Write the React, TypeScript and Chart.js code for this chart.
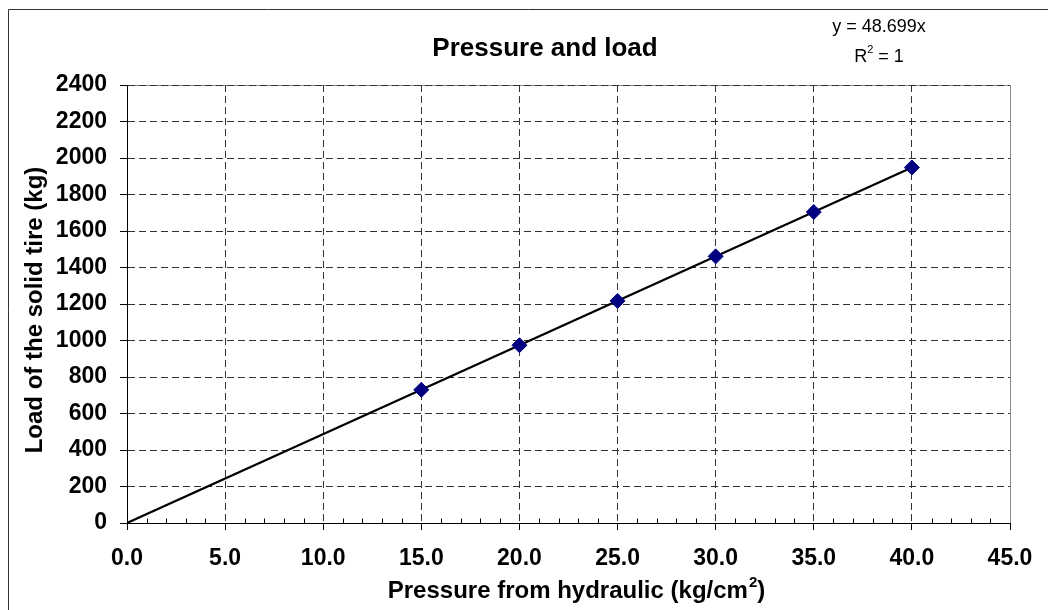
import React, { useEffect, useRef } from "react";
import { Chart, registerables } from "chart.js";

Chart.register(...registerables);

const pressureValues = [15, 20, 25, 30, 35, 40];
const loadValues = [730, 974, 1217, 1461, 1704, 1948];
const trendPressure = [0, 40];
const trendLoad = [0, 1948];

const xMin = 0;
const xMax = 45;
const xStep = 5;
const xMinorStep = 1;
const yMin = 0;
const yMax = 2400;
const yStep = 200;

const chartTitle = "Pressure and load";
const xTitle = "Pressure from hydraulic (kg/cm";
const xTitleSup = "2";
const xTitleEnd = ")";
const yTitle = "Load of the solid tire (kg)";
const eqLine1 = "y = 48.699x";
const eqLine2a = "R";
const eqLine2sup = "2";
const eqLine2b = " = 1";

const FONT = "'Liberation Sans', Arial, sans-serif";

const decorPlugin = {
  id: "decor",
  beforeDraw(chart: any) {
    const { ctx, chartArea } = chart;
    ctx.save();
    ctx.fillStyle = "#fff";
    ctx.fillRect(0, 0, chart.width, chart.height);
    ctx.strokeStyle = "#333";
    ctx.lineWidth = 1;
    ctx.beginPath();
    ctx.moveTo(8.5, chart.height + 2);
    ctx.lineTo(8.5, 9.5);
    ctx.lineTo(chart.width + 2, 9.5);
    ctx.stroke();
    ctx.strokeStyle = "#8a8a8a";
    ctx.strokeRect(
      Math.round(chartArea.left) + 0.5,
      Math.round(chartArea.top) + 0.5,
      Math.round(chartArea.right - chartArea.left),
      Math.round(chartArea.bottom - chartArea.top)
    );
    ctx.restore();
  },
  afterDraw(chart: any) {
    const { ctx, chartArea, scales } = chart;
    const xs = scales.x;
    ctx.save();
    ctx.strokeStyle = "#000";
    ctx.lineWidth = 1;
    const yb = Math.round(chartArea.bottom) + 0.5;
    ctx.beginPath();
    for (let v = xMin + xMinorStep; v < xMax; v += xMinorStep) {
      if (v % xStep === 0) continue;
      const px = Math.round(xs.getPixelForValue(v)) + 0.5;
      ctx.moveTo(px, yb);
      ctx.lineTo(px, yb - 5);
    }
    ctx.stroke();

    ctx.fillStyle = "#000";
    ctx.font = `bold 26px ${FONT}`;
    ctx.textAlign = "center";
    ctx.textBaseline = "alphabetic";
    ctx.fillText(chartTitle, 545, 56);

    ctx.font = `18px ${FONT}`;
    ctx.fillText(eqLine1, 879, 32);
    ctx.textAlign = "left";
    const wR = ctx.measureText(eqLine2a).width;
    const wE = ctx.measureText(eqLine2b).width;
    ctx.font = `11px ${FONT}`;
    const wS = ctx.measureText(eqLine2sup).width;
    const total = wR + wS + wE;
    let ex = 879 - total / 2;
    ctx.font = `18px ${FONT}`;
    ctx.fillText(eqLine2a, ex, 62);
    ex += wR;
    ctx.font = `11px ${FONT}`;
    ctx.fillText(eqLine2sup, ex, 53);
    ex += wS;
    ctx.font = `18px ${FONT}`;
    ctx.fillText(eqLine2b, ex, 62);

    ctx.font = `bold 24px ${FONT}`;
    const w1 = ctx.measureText(xTitle).width;
    const w3 = ctx.measureText(xTitleEnd).width;
    ctx.font = `bold 15px ${FONT}`;
    const w2 = ctx.measureText(xTitleSup).width;
    let tx = 576 - (w1 + w2 + w3) / 2;
    const tb = 598;
    ctx.font = `bold 24px ${FONT}`;
    ctx.fillText(xTitle, tx, tb);
    tx += w1;
    ctx.font = `bold 15px ${FONT}`;
    ctx.fillText(xTitleSup, tx + 1, tb - 11);
    tx += w2 + 1;
    ctx.font = `bold 24px ${FONT}`;
    ctx.fillText(xTitleEnd, tx, tb);

    ctx.translate(42, 310);
    ctx.rotate(-Math.PI / 2);
    ctx.textAlign = "center";
    ctx.font = `bold 24px ${FONT}`;
    ctx.fillText(yTitle, 0, 0);
    ctx.restore();
  },
};

export default function App() {
  const canvasRef = useRef<HTMLCanvasElement | null>(null);

  useEffect(() => {
    const canvas = canvasRef.current;
    if (!canvas) return;
    const chart = new Chart(canvas, {
      type: "scatter",
      data: {
        datasets: [
          {
            label: "Load",
            data: pressureValues.map((x, i) => ({ x, y: loadValues[i] })),
            pointStyle: "rectRot",
            pointRadius: 7.5,
            pointBackgroundColor: "#000080",
            pointBorderColor: "#000080",
            pointBorderWidth: 1,
            showLine: false,
            order: 0,
          },
          {
            label: "Trend",
            data: trendPressure.map((x, i) => ({ x, y: trendLoad[i] })),
            showLine: true,
            borderColor: "#000",
            borderWidth: 2.2,
            pointRadius: 0,
            fill: false,
            order: 1,
          },
        ],
      },
      options: {
        responsive: false,
        animation: false,
        devicePixelRatio: 1,
        layout: { padding: { left: 0, top: 85, right: 38, bottom: 0 } },
        plugins: {
          legend: { display: false },
          tooltip: { enabled: false },
          title: { display: false },
        },
        scales: {
          x: {
            type: "linear",
            position: "bottom",
            min: xMin,
            max: xMax,
            afterFit: (s: any) => {
              s.height = 87;
            },
            ticks: {
              stepSize: xStep,
              color: "#000",
              font: { family: FONT, size: 23, weight: "bold" },
              padding: 15,
              maxRotation: 0,
              callback: (v: any) => Number(v).toFixed(1),
            },
            grid: {
              color: (c: any) =>
                c.tick && (c.tick.value === xMax || c.tick.value === xMin)
                  ? "rgba(0,0,0,0)"
                  : "#333",
              lineWidth: 1,
              tickLength: 7,
              tickColor: "#000",
              tickBorderDash: [],
            },
            border: { color: "#000", width: 1, dash: [7, 4] },
          },
          y: {
            type: "linear",
            min: yMin,
            max: yMax,
            afterFit: (s: any) => {
              s.width = 127;
            },
            ticks: {
              stepSize: yStep,
              color: "#000",
              font: { family: FONT, size: 23, weight: "bold" },
              padding: 13,
              callback: (v: any) => String(Math.round(Number(v))),
            },
            grid: {
              color: (c: any) =>
                c.tick && c.tick.value === yMin ? "rgba(0,0,0,0)" : "#333",
              lineWidth: 1,
              tickLength: 7,
              tickColor: "#000",
              tickBorderDash: [],
            },
            border: { color: "#000", width: 1, dash: [7, 4] },
          },
        },
      },
      plugins: [decorPlugin],
    });
    return () => chart.destroy();
  }, []);

  return (
    <div style={{ position: "absolute", left: 0, top: 0, width: 1048, height: 610 }}>
      <canvas ref={canvasRef} width={1048} height={610} style={{ width: 1048, height: 610 }} />
    </div>
  );
}
